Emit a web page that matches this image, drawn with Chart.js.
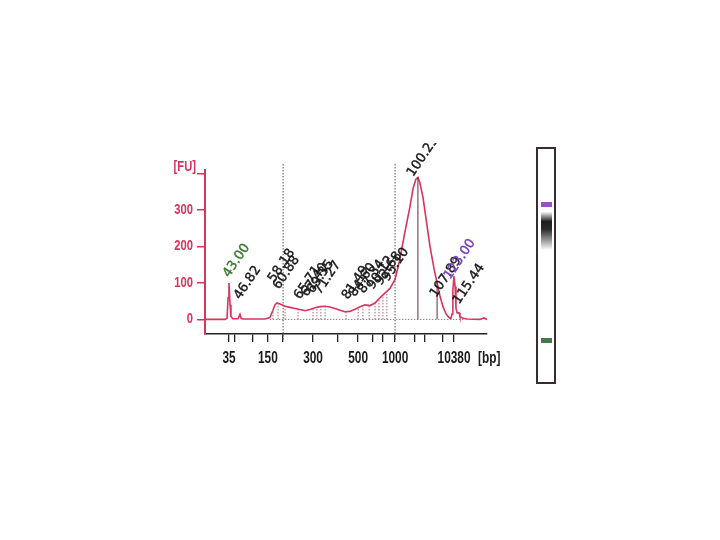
<!DOCTYPE html>
<html>
<head>
<meta charset="utf-8">
<script src="https://cdn.jsdelivr.net/npm/chart.js@4.4.1/dist/chart.umd.min.js"></script>
<style>
  body { margin: 0; background: #fff; }
  #wrap { position: relative; width: 720px; height: 540px; }
  #chart { position: absolute; left: 0; top: 0; }
  .lane { position: absolute; left: 536px; top: 147px; width: 16px; height: 233px; border: 2px solid #3b2b30; background: #fff; }
  .band { position: absolute; left: 3px; width: 11px; }
</style>
</head>
<body>
<div id="wrap">
  <canvas id="chart" width="720" height="540"></canvas>
  <div class="lane">
    <div class="band" style="top:53px;height:5px;background:#9b4fc4"></div>
    <div class="band" style="top:63px;height:38px;background:linear-gradient(#f4f4f4,#1e1e1e 25%,#2a2a2a 45%,#9a9a9a 75%,#fff)"></div>
    <div class="band" style="top:189px;height:5px;background:#3f7a48"></div>
  </div>
</div>
<script>
// migration position (0..100) and fluorescence
const timeAxis = [0, 7.1, 7.8, 8.2, 8.5, 8.9, 9.2, 9.9, 11.7, 12.4, 12.8, 13.5, 21.3, 23.0, 24.1, 24.8, 25.5, 26.6,
  28.4, 30.1, 31.9, 33.7, 35.5, 37.2, 39.0, 40.8, 42.6, 44.3, 46.1, 47.9, 49.6, 51.4, 53.2, 55.0, 56.7, 58.5,
  60.3, 62.1, 63.8, 65.6, 67.4, 69.1, 70.9, 72.7, 73.8, 74.8, 75.5, 76.2, 77.3, 78.4, 79.8, 81.2, 82.3, 83.3,
  84.4, 85.5, 86.5, 87.2, 87.6, 87.9, 88.3, 88.7, 89.0, 89.4, 90.1, 90.4, 91.5, 92.9, 97.5, 98.9, 100];
const fuValues = [0, 0, 3, 60, 100, 40, 8, 2, 2, 14, 3, 1, 1, 5, 25, 40, 45, 42,
  36, 33, 30, 27, 24, 27, 32, 35, 36, 34, 30, 25, 21, 22, 28, 35, 40, 38,
  45, 60, 72, 85, 110, 165, 240, 310, 360, 385, 390, 375, 335, 275, 200, 140, 100, 65,
  35, 15, 5, 3, 15, 80, 118, 90, 30, 18, 18, 8, 3, 1, 0, 4, 0];

const tickPos = [8.5, 10.6, 17.0, 22.3, 27.7, 38.3, 47.2, 54.3, 59.6, 63.1, 67.4, 74.5, 78.0, 84.4, 88.3];
const tickText = ["35", "", "", "150", "", "300", "", "500", "", "", "1000", "", "", "", "10380"];
const fuTicks = [0, 100, 200, 300, 400];
const fuTickText = ["0", "100", "200", "300", ""];

const guideLines = [27.7, 67.4];
const regionMarks = [24.1, 25.9, 28.4, 33.0, 38.3, 39.7, 41.1, 42.6, 50.0, 54.3, 56.0, 58.2, 60.3, 61.7, 63.1, 64.5];
const peakMarks = [75.5, 82.3];

const peakNames = ["43.00", "46.82", "58.18", "60.88", "65.71", "67.40", "69.35", "71.27", "81.49", "84.60",
  "87.34", "90.12", "92.68", "95.10", "100.23", "107.89", "123.00", "115.44"];
const peakNameX = [8.5, 12.4, 24.5, 26.2, 33.7, 36.2, 38.3, 40.8, 50.7, 53.2, 56.4, 59.6, 62.4, 64.9, 73.8, 81.9, 86.9, 90.1];
const peakNameY = [114, 53, 100, 81, 53, 61, 70, 67, 53, 61, 70, 81, 92, 103, 390, 59, 108, 40];
const peakNameColor = ["#3d7a2e", "#1a1a1a", "#1a1a1a", "#1a1a1a", "#1a1a1a", "#1a1a1a", "#1a1a1a", "#1a1a1a", "#1a1a1a", "#1a1a1a",
  "#1a1a1a", "#1a1a1a", "#1a1a1a", "#1a1a1a", "#1a1a1a", "#1a1a1a", "#7a3fb8", "#1a1a1a"];

const traceColor = "#d8345c";
const axisFont = "'Liberation Sans', Arial, sans-serif";

const fuAt = (u) => {
  for (let i = 1; i < timeAxis.length; i++) {
    if (u <= timeAxis[i]) {
      const t = (u - timeAxis[i - 1]) / (timeAxis[i] - timeAxis[i - 1]);
      return fuValues[i - 1] + t * (fuValues[i] - fuValues[i - 1]);
    }
  }
  return 0;
};

// condensed text: the original uses a narrow bold face
const narrowText = (ctx, text, x, y, align, squeeze) => {
  ctx.save();
  ctx.translate(x, y);
  ctx.scale(squeeze, 1);
  ctx.textAlign = align;
  ctx.fillText(text, 0, 0);
  ctx.restore();
};

const decorations = {
  id: "decorations",
  afterDatasetsDraw(chart) {
    const { ctx, chartArea, scales } = chart;
    const xs = scales.x, ys = scales.y;
    ctx.save();
    // region dotted markers
    ctx.setLineDash([1.5, 1.5]);
    ctx.lineWidth = 1;
    ctx.strokeStyle = "#b06878";
    regionMarks.forEach((u) => {
      ctx.beginPath();
      ctx.moveTo(xs.getPixelForValue(u), ys.getPixelForValue(0));
      ctx.lineTo(xs.getPixelForValue(u), ys.getPixelForValue(fuAt(u)));
      ctx.stroke();
    });
    // dotted baseline
    ctx.strokeStyle = "#888";
    ctx.beginPath();
    ctx.moveTo(xs.getPixelForValue(23), ys.getPixelForValue(0));
    ctx.lineTo(xs.getPixelForValue(92), ys.getPixelForValue(0));
    ctx.stroke();
    // guide lines
    ctx.strokeStyle = "#555";
    guideLines.forEach((u) => {
      ctx.beginPath();
      ctx.moveTo(xs.getPixelForValue(u), chartArea.top - 6);
      ctx.lineTo(xs.getPixelForValue(u), chartArea.bottom + 6);
      ctx.stroke();
    });
    ctx.setLineDash([]);
    // main peak markers
    ctx.strokeStyle = "#6a2a3a";
    peakMarks.forEach((u) => {
      ctx.beginPath();
      ctx.moveTo(xs.getPixelForValue(u), ys.getPixelForValue(0));
      ctx.lineTo(xs.getPixelForValue(u), ys.getPixelForValue(fuAt(u)));
      ctx.stroke();
    });
    // peak names (the original picture is cropped just above the plot)
    ctx.save();
    ctx.beginPath();
    ctx.rect(0, 143, chart.width, chart.height);
    ctx.clip();
    ctx.font = "13px 'DejaVu Sans'";
    ctx.textBaseline = "alphabetic";
    ctx.textAlign = "left";
    ctx.lineWidth = 0.4;
    peakNames.forEach((name, i) => {
      ctx.save();
      ctx.translate(xs.getPixelForValue(peakNameX[i]), ys.getPixelForValue(peakNameY[i]));
      ctx.rotate(-56 * Math.PI / 180);
      ctx.fillStyle = peakNameColor[i];
      ctx.strokeStyle = peakNameColor[i];
      ctx.fillText(name, 0, 0);
      ctx.strokeText(name, 0, 0);
      ctx.restore();
    });
    ctx.restore();
    // axis labels
    ctx.textBaseline = "alphabetic";
    ctx.font = "bold 16px " + axisFont;
    ctx.fillStyle = "#1a1a1a";
    tickPos.forEach((v, i) => {
      if (tickText[i]) narrowText(ctx, tickText[i], xs.getPixelForValue(v), chartArea.bottom + 29, "center", 0.74);
    });
    narrowText(ctx, "[bp]", chartArea.right - 9, chartArea.bottom + 29, "left", 0.74);
    ctx.font = "bold 14px " + axisFont;
    ctx.fillStyle = traceColor;
    ctx.textBaseline = "middle";
    fuTicks.forEach((v, i) => {
      if (fuTickText[i]) narrowText(ctx, fuTickText[i], chartArea.left - 12, ys.getPixelForValue(v), "right", 0.8);
    });
    ctx.textBaseline = "alphabetic";
    narrowText(ctx, "[FU]", chartArea.left - 9, chartArea.top + 1, "right", 0.8);
    ctx.restore();
  },
};

new Chart(document.getElementById("chart"), {
  type: "line",
  data: {
    datasets: [{
      data: timeAxis.map((u, i) => ({ x: u, y: fuValues[i] })),
      borderColor: traceColor,
      borderWidth: 1.6,
      pointRadius: 0,
      tension: 0,
      fill: false,
    }],
  },
  options: {
    responsive: false,
    animation: false,
    layout: { padding: { left: 160, right: 233, top: 170, bottom: 166 } },
    plugins: { legend: { display: false }, tooltip: { enabled: false } },
    scales: {
      x: {
        type: "linear",
        min: 0,
        max: 100,
        afterFit: (scale) => { scale.height = 40; },
        afterBuildTicks: (scale) => { scale.ticks = tickPos.map((v) => ({ value: v })); },
        ticks: { display: false, autoSkip: false },
        grid: { drawOnChartArea: false, drawTicks: true, tickLength: 8, color: "#222", lineWidth: 1.3 },
        border: { color: "#222", width: 1.5 },
      },
      y: {
        min: -40,
        max: 410,
        afterFit: (scale) => { scale.width = 45; },
        afterBuildTicks: (scale) => { scale.ticks = fuTicks.map((v) => ({ value: v })); },
        ticks: { display: false },
        grid: { drawOnChartArea: false, drawTicks: true, tickLength: 8, color: traceColor, lineWidth: 1.5 },
        border: { color: traceColor, width: 2 },
      },
    },
  },
  plugins: [decorations],
});
</script>
</body>
</html>
